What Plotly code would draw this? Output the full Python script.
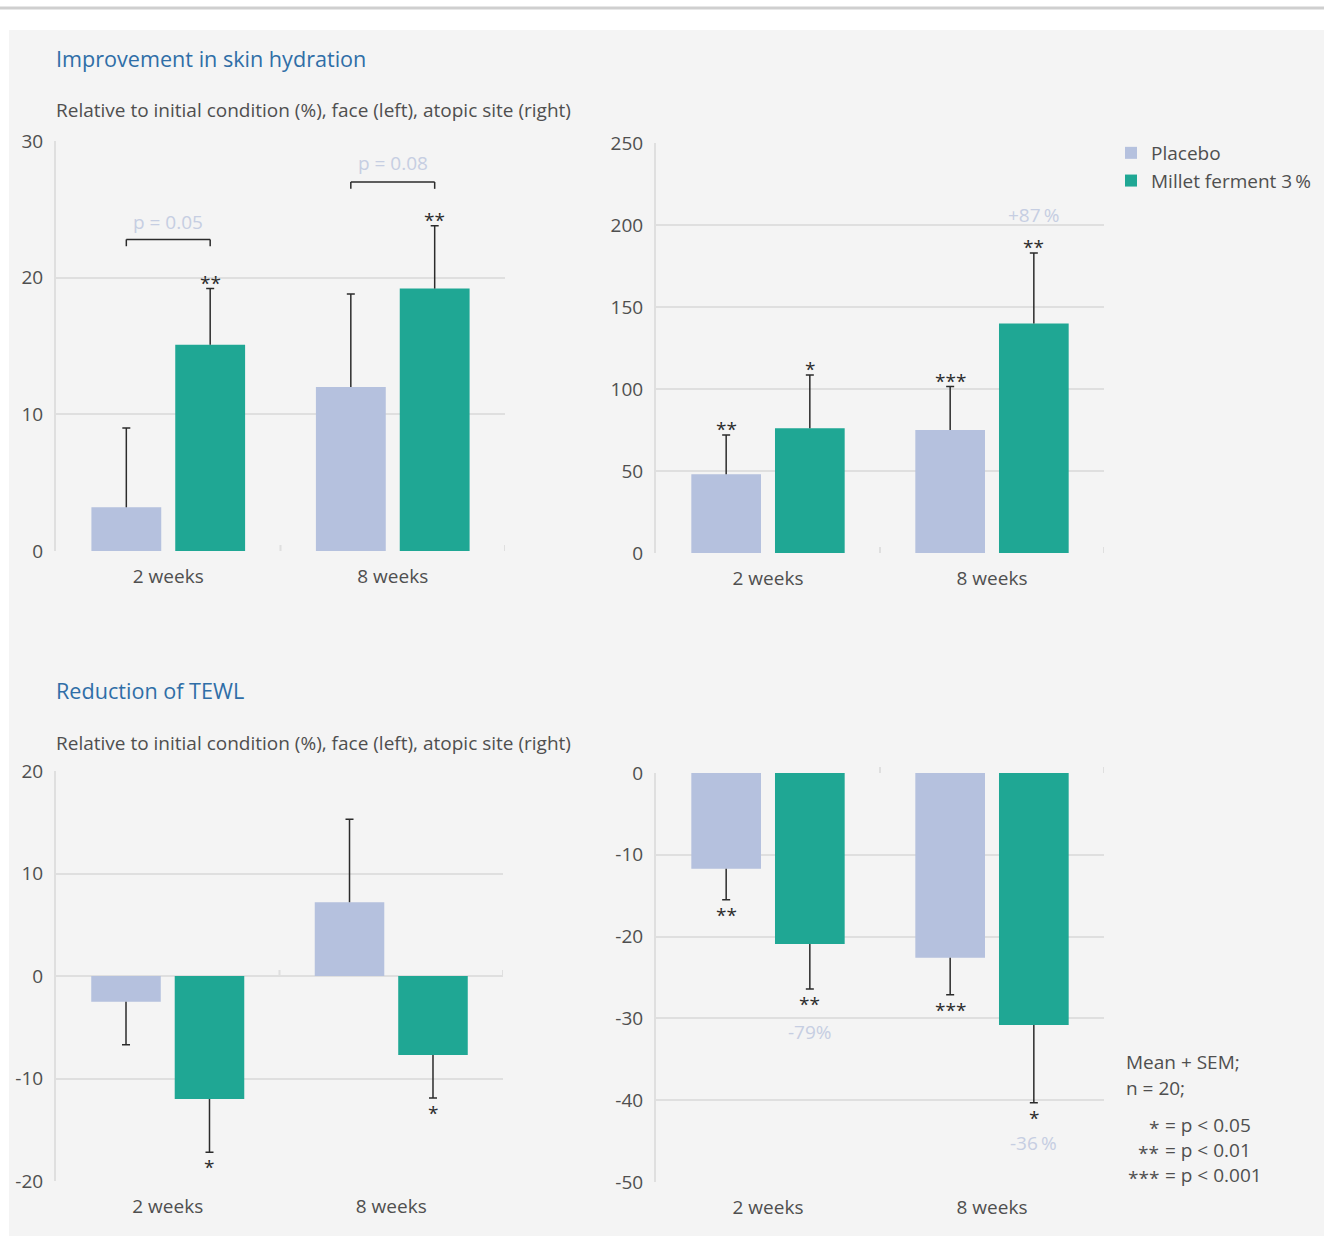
import plotly.graph_objects as go

W, H = 1324, 1236
FONT = "Open Sans"

weeks = ["2 weeks", "8 weeks"]
placebo_name = "Placebo"
millet_name = "Millet ferment 3\u2009%"

# Skin hydration, face (% change vs. baseline)
hyd_face_placebo = [3.2, 12.0]
hyd_face_placebo_sem = [5.8, 6.8]
hyd_face_millet = [15.1, 19.2]
hyd_face_millet_sem = [4.1, 4.6]
hyd_face_placebo_sig = ["", ""]
hyd_face_millet_sig = ["**", "**"]
hyd_face_ticks = [0, 10, 20, 30]
hyd_face_pvalues = ["p = 0.05", "p = 0.08"]
hyd_face_bracket_y = [22.8, 27.0]
hyd_face_pvalue_y = [24.1, 28.4]

# Skin hydration, atopic site
hyd_atopic_placebo = [48, 75]
hyd_atopic_placebo_sem = [24, 26.5]
hyd_atopic_millet = [76, 140]
hyd_atopic_millet_sem = [32.5, 43]
hyd_atopic_placebo_sig = ["**", "***"]
hyd_atopic_millet_sig = ["*", "**"]
hyd_atopic_ticks = [0, 50, 100, 150, 200, 250]
hyd_atopic_pct = ["", "+87\u2009%"]
hyd_atopic_pct_y = [None, 206]

# TEWL, face
tewl_face_placebo = [-2.5, 7.2]
tewl_face_placebo_sem = [4.2, 8.1]
tewl_face_millet = [-12.0, -7.7]
tewl_face_millet_sem = [5.2, 4.2]
tewl_face_placebo_sig = ["", ""]
tewl_face_millet_sig = ["*", "*"]
tewl_face_ticks = [-20, -10, 0, 10, 20]

# TEWL, atopic site
tewl_atopic_placebo = [-11.7, -22.6]
tewl_atopic_placebo_sem = [3.8, 4.5]
tewl_atopic_millet = [-20.9, -30.8]
tewl_atopic_millet_sem = [5.5, 9.5]
tewl_atopic_placebo_sig = ["**", "***"]
tewl_atopic_millet_sig = ["**", "*"]
tewl_atopic_ticks = [-50, -40, -30, -20, -10, 0]
tewl_atopic_pct = ["-79%", "-36\u2009%"]
tewl_atopic_pct_y = [-31.7, -45.2]

PLACEBO_C = "#b5c1de"
MILLET_C = "#1fa794"
GRID_C = "#dfdfdf"
TEXT_C = "#4f4f4f"
INK_C = "#2b2b2b"
LIGHT_C = "#c6cee2"
TITLE_C = "#2f6ea7"
FS = 19

BARGAP = 0.253
BARGROUPGAP = 0.167
OFF = (1 - BARGAP) / 4  # centre offset of each bar within its category


def xdom(l, r):
    return [l / W, r / W]


def ydom(t, b):
    return [1 - b / H, 1 - t / H]


panels = [
    dict(n="", xbox=(56, 505), ybox=(141, 551), rng=[0, 30], ticks=hyd_face_ticks,
         series=[(hyd_face_placebo, hyd_face_placebo_sem, hyd_face_placebo_sig),
                 (hyd_face_millet, hyd_face_millet_sem, hyd_face_millet_sig)],
         legend=False),
    dict(n="2", xbox=(656, 1104), ybox=(143, 553), rng=[0, 250], ticks=hyd_atopic_ticks,
         series=[(hyd_atopic_placebo, hyd_atopic_placebo_sem, hyd_atopic_placebo_sig),
                 (hyd_atopic_millet, hyd_atopic_millet_sem, hyd_atopic_millet_sig)],
         legend=True),
    dict(n="3", xbox=(56, 503), ybox=(771, 1181), rng=[-20, 20], ticks=tewl_face_ticks,
         series=[(tewl_face_placebo, tewl_face_placebo_sem, tewl_face_placebo_sig),
                 (tewl_face_millet, tewl_face_millet_sem, tewl_face_millet_sig)],
         legend=False),
    dict(n="4", xbox=(656, 1104), ybox=(773, 1182), rng=[-50, 0], ticks=tewl_atopic_ticks,
         series=[(tewl_atopic_placebo, tewl_atopic_placebo_sem, tewl_atopic_placebo_sig),
                 (tewl_atopic_millet, tewl_atopic_millet_sem, tewl_atopic_millet_sig)],
         legend=False),
]

fig = go.Figure()
shapes = []
annotations = []
layout_axes = {}

names = [placebo_name, millet_name]
colors = [PLACEBO_C, MILLET_C]

for p in panels:
    n = p["n"]
    xa, ya = "x" + n, "y" + n
    lo, hi = p["rng"]
    for s, (vals, sem, sig) in enumerate(p["series"]):
        group = f"{xa}-{s}"
        up = [e if v >= 0 else 0 for v, e in zip(vals, sem)]
        down = [0 if v >= 0 else e for v, e in zip(vals, sem)]
        caps = [v + e if v >= 0 else v - e for v, e in zip(vals, sem)]
        fig.add_trace(go.Bar(
            x=weeks, y=vals, name=names[s], xaxis=xa, yaxis=ya,
            offsetgroup=group, marker=dict(color=colors[s], line=dict(width=0)),
            error_y=dict(type="data", symmetric=False, array=up, arrayminus=down,
                         width=0, thickness=1.5, color=INK_C),
            showlegend=p["legend"], legendgroup=names[s], hoverinfo="skip",
        ))
        # whisker caps
        fig.add_trace(go.Bar(
            x=weeks, y=caps, xaxis=xa, yaxis=ya, offsetgroup=group,
            marker=dict(color="rgba(0,0,0,0)", line=dict(width=0)),
            error_y=dict(type="data", symmetric=False, array=[0] * len(caps),
                         arrayminus=[0] * len(caps), width=4, thickness=1.5, color=INK_C),
            showlegend=False, hoverinfo="skip",
        ))
        for i, (c, lab) in enumerate(zip(caps, sig)):
            if not lab:
                continue
            pos = vals[i] >= 0
            annotations.append(dict(
                x=i + (2 * s - 1) * OFF, y=c, xref=xa, yref=ya, text=lab,
                showarrow=False, yanchor="middle", yshift=6 if pos else -15,
                font=dict(family=FONT, size=19, color=INK_C),
            ))

    layout_axes["xaxis" + n] = dict(
        domain=xdom(*p["xbox"]), anchor=ya, type="category", range=[-0.5, 1.5],
        showgrid=False, zeroline=False, showline=False, ticks="", automargin=False,
        ticklabelstandoff=12, tickfont=dict(family=FONT, size=FS, color=TEXT_C),
        fixedrange=True,
    )
    layout_axes["yaxis" + n] = dict(
        domain=ydom(*p["ybox"]), anchor=xa, range=[lo, hi], automargin=False,
        tickvals=p["ticks"], ticktext=[str(t) for t in p["ticks"]],
        showgrid=True, gridcolor=GRID_C, gridwidth=2, zeroline=False,
        showline=True, linecolor=GRID_C, linewidth=2, ticks="",
        ticklabelstandoff=7, tickfont=dict(family=FONT, size=FS, color=TEXT_C),
        fixedrange=True,
    )

    # small upright tick marks on the zero baseline at category boundaries
    zero_frac = (0 - lo) / (hi - lo)
    for b in [0.5, 1.5]:
        shapes.append(dict(
            type="line", xref=xa, yref=f"{ya} domain", x0=b, x1=b,
            ysizemode="pixel", yanchor=zero_frac, y0=0, y1=6,
            line=dict(color=GRID_C, width=2), layer="above",
        ))

# significance brackets (face hydration)
for i, (lab, yb, yt) in enumerate(zip(hyd_face_pvalues, hyd_face_bracket_y, hyd_face_pvalue_y)):
    xl, xr = i - OFF, i + OFF
    leg = 0.5
    for x0, y0, x1, y1 in [(xl, yb - leg, xl, yb), (xl, yb, xr, yb), (xr, yb, xr, yb - leg)]:
        shapes.append(dict(type="line", xref="x", yref="y", x0=x0, y0=y0, x1=x1, y1=y1,
                           line=dict(color=INK_C, width=1.5)))
    annotations.append(dict(x=i, y=yt, xref="x", yref="y", text=lab, showarrow=False,
                            yanchor="middle", font=dict(family=FONT, size=FS, color=LIGHT_C)))

# percentage labels
for i, (lab, yv) in enumerate(zip(hyd_atopic_pct, hyd_atopic_pct_y)):
    if lab:
        annotations.append(dict(x=i + OFF, y=yv, xref="x2", yref="y2", text=lab, showarrow=False,
                                yanchor="middle", font=dict(family=FONT, size=FS, color=LIGHT_C)))
for i, (lab, yv) in enumerate(zip(tewl_atopic_pct, tewl_atopic_pct_y)):
    if lab:
        annotations.append(dict(x=i + OFF, y=yv, xref="x4", yref="y4", text=lab, showarrow=False,
                                yanchor="middle", font=dict(family=FONT, size=FS, color=LIGHT_C)))


# section headings and footnote, positioned in page pixels
def text_px(txt, x, y, size, color, anchor="left"):
    annotations.append(dict(x=x / W, y=1 - y / H, xref="paper", yref="paper", text=txt,
                            showarrow=False, xanchor=anchor, yanchor="middle",
                            font=dict(family=FONT, size=size, color=color)))


subtitle = "Relative to initial condition (%), face (left), atopic site (right)"
text_px("Improvement in skin hydration", 54, 58, 21.6, TITLE_C)
text_px(subtitle, 54, 110, FS, TEXT_C)
text_px("Reduction of TEWL", 54, 690, 21.6, TITLE_C)
text_px(subtitle, 54, 743, FS, TEXT_C)

text_px("Mean + SEM;", 1124, 1062, FS, TEXT_C)
text_px("n = 20;", 1124, 1088, FS, TEXT_C)
for k, (stars, rest) in enumerate([("*", "= p < 0.05"), ("**", "= p < 0.01"), ("***", "= p < 0.001")]):
    text_px(stars, 1161, 1128 + 25 * k, FS, TEXT_C, anchor="right")
    text_px(rest, 1163, 1125 + 25 * k, FS, TEXT_C)

# page background panel and top rule
shapes.insert(0, dict(type="rect", xref="paper", yref="paper", x0=9 / W, x1=1, y0=0, y1=1 - 30 / H,
                      fillcolor="#f4f4f4", line=dict(width=0), layer="below"))
shapes.insert(1, dict(type="line", xref="paper", yref="paper", x0=0, x1=1, y0=1 - 8 / H, y1=1 - 8 / H,
                      line=dict(color="#cfcfcf", width=3), layer="below"))

fig.update_layout(
    template="none",
    width=W, height=H, margin=dict(l=0, r=0, t=0, b=0, pad=0, autoexpand=False),
    paper_bgcolor="white", plot_bgcolor="rgba(0,0,0,0)",
    barmode="group", bargap=BARGAP, bargroupgap=BARGROUPGAP,
    font=dict(family=FONT, size=FS, color=TEXT_C),
    legend=dict(x=1111 / W, y=1 - 134 / H, xanchor="left", yanchor="top",
                bgcolor="rgba(0,0,0,0)", font=dict(family=FONT, size=FS, color=TEXT_C),
                tracegroupgap=0, itemwidth=30),
    shapes=shapes, annotations=annotations,
    **layout_axes,
)

fig.write_html("out.html")
